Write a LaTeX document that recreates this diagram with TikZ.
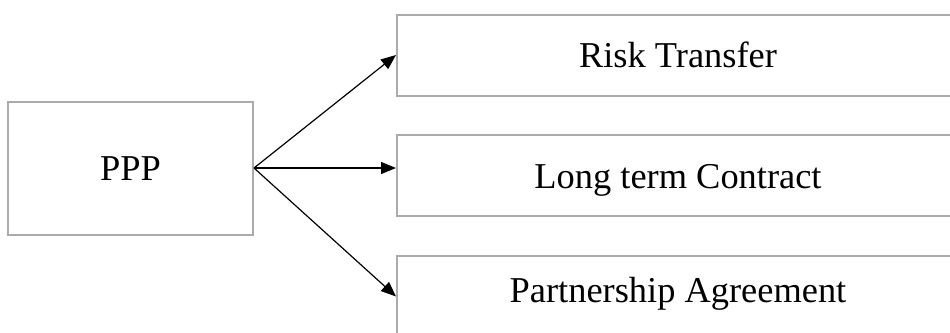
\documentclass[tikz,border=0pt]{standalone}
\usepackage{fontspec}
\setmainfont{Liberation Serif}
\usetikzlibrary{arrows.meta}
\begin{document}
\begin{tikzpicture}[x=1pt,y=-1pt,
  box/.style={draw=black!33, line width=2pt, rectangle, inner sep=0pt,
    font=\fontsize{36.4}{40}\selectfont, text height=27pt, text depth=2pt},
  rbox/.style={box, minimum width=640pt, minimum height=81pt},
  conn/.style={line width=1.2pt, -{Triangle[length=15pt,width=12pt]}}]
\useasboundingbox (0,0) rectangle (950,332);
\node[box, minimum width=245pt, minimum height=133pt] (ppp) at (130.5,168) {PPP};
\node[rbox] (risk) at (717,55) {\hspace*{-78pt}Risk Transfer};
\node[rbox] (long) at (717,175.5) {\hspace*{-78pt}Long term Contract};
\node[rbox, text depth=16pt] (part) at (717,296.5) {\hspace*{-78pt}Partnership Agreement};
\draw[conn] (ppp.east) -- (risk.west);
\draw[conn] (ppp.east) -- (long.west |- ppp.east);
\draw[conn] (ppp.east) -- (part.west);
\end{tikzpicture}
\end{document}
